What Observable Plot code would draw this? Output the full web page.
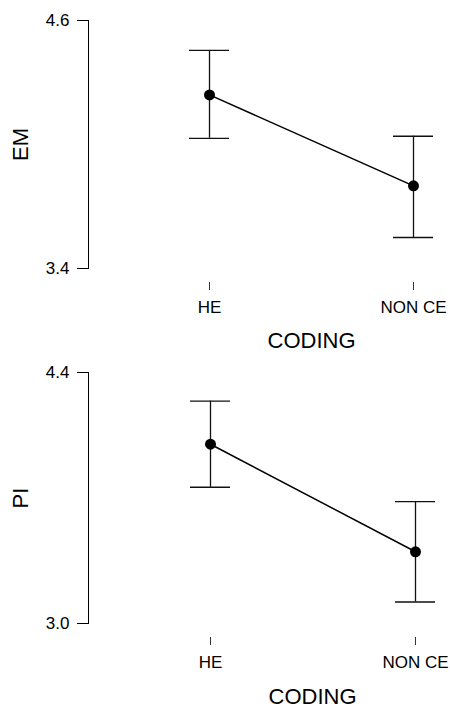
<!DOCTYPE html>
<html>
<head>
<meta charset="utf-8">
<script src="https://cdn.jsdelivr.net/npm/d3@7"></script>
<script src="https://cdn.jsdelivr.net/npm/@observablehq/plot@0.6"></script>
<style>
  html, body { margin: 0; padding: 0; background: #fff; overflow: hidden; }
  #chart { width: 450px; }
  #chart svg { display: block; }
</style>
</head>
<body>
<div id="chart"></div>
<script>
// ---- data ----
const categories = ["HE", "NON CE"];
const xTitle = "CODING";

const emMean  = [4.24, 3.80];
const emLower = [4.03, 3.55];
const emUpper = [4.455, 4.04];
const emTicks = [3.4, 4.6];

const piMean  = [4.00, 3.40];
const piLower = [3.76, 3.12];
const piUpper = [4.24, 3.68];
const piTicks = [3.0, 4.4];

const FONT = "'Liberation Sans', Arial, Helvetica, sans-serif";

function panel({title, mean, lower, upper, ticks, height, marginTop, marginBottom, xRange, titleDx, titleDy}) {
  const rows = categories.map((c, i) => ({cat: c, mean: mean[i], lo: lower[i], hi: upper[i]}));
  return Plot.plot({
    width: 450,
    height,
    marginLeft: 88,
    marginRight: 88,
    marginTop,
    marginBottom,
    style: {fontFamily: FONT, fontSize: "17px", color: "#000", background: "#fff"},
    x: {type: "band", domain: categories, range: xRange, paddingInner: 0.805, paddingOuter: 0, axis: null},
    y: {domain: [ticks[0], ticks[1]], axis: null},
    marks: [
      Plot.frame({anchor: "left", stroke: "#000"}),
      Plot.axisY({ticks, tickSize: 11, tickPadding: 8, tickFormat: d3.format(".1f"), label: null, fontSize: 17, stroke: "#000"}),
      Plot.ruleY([ticks[0]], {x1: categories[0], x2: categories[categories.length - 1], dy: 14, insetLeft: 20, insetRight: 20, stroke: "#333"}),
      Plot.axisX({tickSize: 8, dy: 14, tickPadding: 10, label: null, fontSize: 17, stroke: "#333"}),
      Plot.text([xTitle], {frameAnchor: "bottom", dx: titleDx, dy: titleDy, lineAnchor: "middle", textAnchor: "middle", fontSize: 22, fill: "#000"}),
      Plot.text([title], {frameAnchor: "left", dx: -68, rotate: -90, textAnchor: "middle", lineAnchor: "middle", fontSize: 22, fill: "#000"}),
      Plot.ruleX(rows, {x: "cat", y1: "lo", y2: "hi", stroke: "#111", strokeWidth: 1.3}),
      Plot.tickY(rows, {x: "cat", y: "lo", stroke: "#111", strokeWidth: 1.3}),
      Plot.tickY(rows, {x: "cat", y: "hi", stroke: "#111", strokeWidth: 1.3}),
      Plot.line(rows, {x: "cat", y: "mean", stroke: "#000", strokeWidth: 1.5}),
      Plot.dot(rows, {x: "cat", y: "mean", r: 5.5, fill: "#000", stroke: "none"})
    ]
  });
}

const topPanel = panel({title: "EM", mean: emMean, lower: emLower, upper: emUpper, ticks: emTicks,
  height: 355, marginTop: 20, marginBottom: 87, xRange: [189, 433], titleDx: 86, titleDy: 72});
const bottomPanel = panel({title: "PI", mean: piMean, lower: piLower, upper: piUpper, ticks: piTicks,
  height: 354, marginTop: 17, marginBottom: 86, xRange: [189, 435], titleDx: 87, titleDy: 73});

document.getElementById("chart").append(topPanel, bottomPanel);
</script>
</body>
</html>
